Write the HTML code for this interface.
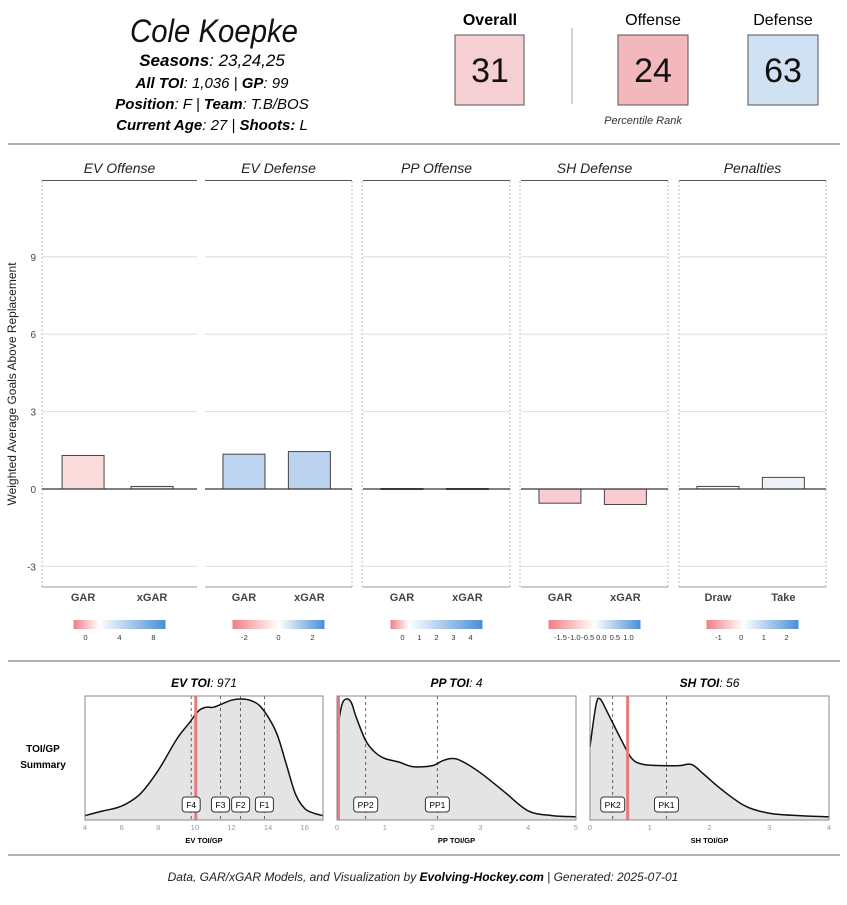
<!DOCTYPE html>
<html><head><meta charset="utf-8"><style>
body{margin:0;background:#fff;font-family:"Liberation Sans",sans-serif;}
svg text{font-family:"Liberation Sans",sans-serif;}
</style></head><body>
<svg id="c" width="847" height="900" viewBox="0 0 847 900" xmlns="http://www.w3.org/2000/svg">
<rect width="847" height="900" fill="#fff"/>
<g>
<text x="214" y="42" font-size="32" font-style="italic" text-anchor="middle" fill="#111" textLength="168" lengthAdjust="spacingAndGlyphs">Cole Koepke</text>
<text x="212" y="66" font-size="17" font-style="italic" text-anchor="middle"><tspan font-weight="bold">Seasons</tspan>: 23,24,25</text>
<text x="212" y="88" font-size="15" font-style="italic" text-anchor="middle"><tspan font-weight="bold">All TOI</tspan>: 1,036 | <tspan font-weight="bold">GP</tspan>: 99</text>
<text x="212" y="109" font-size="15" font-style="italic" text-anchor="middle"><tspan font-weight="bold">Position</tspan>: F | <tspan font-weight="bold">Team</tspan>: T.B/BOS</text>
<text x="212" y="130" font-size="15" font-style="italic" text-anchor="middle"><tspan font-weight="bold">Current Age</tspan>: 27 | <tspan font-weight="bold">Shoots:</tspan> L</text>
<text x="490" y="25" font-size="16" font-weight="bold" text-anchor="middle">Overall</text>
<rect x="455" y="35" width="69" height="70" fill="#f6cfd2" stroke="#555"/>
<text x="490" y="82" font-size="34" text-anchor="middle" fill="#111">31</text>
<line x1="572" y1="28" x2="572" y2="104" stroke="#aaa"/>
<text x="653" y="25" font-size="16" text-anchor="middle">Offense</text>
<rect x="618" y="35" width="70" height="70" fill="#f2b8bb" stroke="#555"/>
<text x="653" y="82" font-size="34" text-anchor="middle" fill="#111">24</text>
<text x="783" y="25" font-size="16" text-anchor="middle">Defense</text>
<rect x="748" y="35" width="70" height="70" fill="#cfe1f2" stroke="#555"/>
<text x="783" y="82" font-size="34" text-anchor="middle" fill="#111">63</text>
<text x="643" y="124" font-size="11" font-style="italic" text-anchor="middle" fill="#333">Percentile Rank</text>
<line x1="8" y1="144" x2="840" y2="144" stroke="#999" stroke-width="1.5"/>
</g>
<g id="bars"></g>
<line x1="8" y1="661" x2="840" y2="661" stroke="#999" stroke-width="1.5"/>
<text x="43" y="752" font-size="10" font-weight="bold" text-anchor="middle">TOI/GP</text>
<text x="43" y="768" font-size="10" font-weight="bold" text-anchor="middle">Summary</text>
<g id="dens"></g>
<line x1="8" y1="855" x2="840" y2="855" stroke="#999" stroke-width="1.5"/>
<text x="423" y="881" font-size="12" font-style="italic" text-anchor="middle" fill="#222">Data, GAR/xGAR Models, and Visualization by <tspan font-weight="bold" fill="#000">Evolving-Hockey.com</tspan> | Generated: 2025-07-01</text>
</svg>
<script>
const panelNames=["EV Offense","EV Defense","PP Offense","SH Defense","Penalties"];
const barLabels=[["GAR","xGAR"],["GAR","xGAR"],["GAR","xGAR"],["GAR","xGAR"],["Draw","Take"]];
const barValues=[[1.3,0.1],[1.35,1.45],[0.02,0.02],[-0.55,-0.6],[0.1,0.45]];
const barColors=[["#fadcdd","#f6e4e4"],["#bfd4ef","#bcd3ef"],["#f3f3f3","#f3f3f3"],["#f9cdcf","#f9cdcf"],["#fbfbfd","#eef2f8"]];
const yTicks=[-3,0,3,6,9];
const legendTicks=[["0","4","8"],["-2","0","2"],["0","1","2","3","4"],["-1.5","-1.0","-0.5","0.0","0.5","1.0"],["-1","0","1","2"]];
const NS="http://www.w3.org/2000/svg";
function mk(p,t,a,txt){const e=document.createElementNS(NS,t);for(const k in a)e.setAttribute(k,a[k]);if(txt!==undefined)e.textContent=txt;p.appendChild(e);return e;}
const yS=v=>489-v*25.8;
const px=[[42,197],[205,352],[363,510],[521,668],[679,826]];
const g=document.getElementById('bars');
const yt=mk(g,'text',{x:16,y:384,'font-size':12,'text-anchor':'middle',transform:'rotate(-90 16 384)',fill:'#222'},'Weighted Average Goals Above Replacement');


yTicks.forEach(t=>{const e=mk(g,'text',{x:36,y:yS(t)+4,'font-size':10,'text-anchor':'end',fill:'#444'},String(t));

});
[42,352,362,510,520,668,679,826].forEach(x=>mk(g,'line',{x1:x,y1:181,x2:x,y2:587,stroke:'#bbb','stroke-dasharray':'2,2'}));
panelNames.forEach((n,i)=>{const [a,b]=px[i];const w=b-a;
const pg=mk(g,'g',{});


mk(pg,'text',{x:(a+b)/2,y:173,'font-size':14,'font-style':'italic','text-anchor':'middle',fill:'#222'},n);
mk(pg,'line',{x1:a,y1:180.5,x2:b,y2:180.5,stroke:'#555'});
yTicks.forEach(t=>{if(t!==0)mk(pg,'line',{x1:a,y1:yS(t),x2:b,y2:yS(t),stroke:'#ddd'});});
mk(pg,'line',{x1:a,y1:587,x2:b,y2:587,stroke:'#999'});
const cx=[a+w*0.265,a+w*0.71];
barValues[i].forEach((v,j)=>{const y0=yS(Math.max(v,0)),h=Math.abs(v)*25.8;
const r=mk(pg,'rect',{x:cx[j]-21,y:y0,width:42,height:Math.max(h,1),fill:barColors[i][j],stroke:'#444','stroke-width':1});


mk(pg,'text',{x:cx[j],y:601,'font-size':11,'font-weight':'bold','text-anchor':'middle',fill:'#444'},barLabels[i][j]);});
mk(pg,'line',{x1:a,y1:489,x2:b,y2:489,stroke:'#333','stroke-width':1.3});
const lx=(a+b)/2-46,lw=92;
const gid='lg'+i;const d=mk(pg,'defs',{});const lg=mk(d,'linearGradient',{id:gid});
const zf=[0.28,0.5,0.2,0.5,0.4][i];
mk(lg,'stop',{offset:0,'stop-color':'#ee7f85'});mk(lg,'stop',{offset:zf,'stop-color':'#ffffff'});mk(lg,'stop',{offset:1,'stop-color':'#4a8fd6'});
const lr=mk(pg,'rect',{x:lx,y:620,width:lw,height:9,fill:'url(#'+gid+')'});


const ts=legendTicks[i];ts.forEach((t,k)=>{const tx=lx+12+k*(lw-24)/(ts.length-1);
mk(pg,'text',{x:tx,y:640,'font-size':7.5,'text-anchor':'middle',fill:'#333'},t);});
});
const evX=[4,5,6,7,8,9,9.7,10.2,10.6,11,11.5,12,12.5,13,13.5,14,14.5,15,15.5,16,16.5,17];
const evD=[0.02,0.06,0.1,0.2,0.4,0.66,0.8,0.9,0.93,0.93,0.96,0.99,1.0,0.99,0.95,0.85,0.7,0.45,0.2,0.08,0.04,0.02];
const ppX=[0,0.1,0.2,0.3,0.4,0.6,0.8,1.0,1.3,1.6,2.0,2.2,2.4,2.6,3.0,3.5,4.0,4.5,5];
const ppD=[0.72,0.95,1.0,0.97,0.85,0.65,0.55,0.5,0.47,0.43,0.44,0.48,0.5,0.48,0.38,0.22,0.06,0.02,0.01];
const shX=[0,0.1,0.17,0.3,0.5,0.7,0.9,1.2,1.5,1.7,1.9,2.2,2.6,3,3.5,4];
const shD=[0.6,0.95,1.0,0.88,0.68,0.5,0.45,0.44,0.44,0.45,0.37,0.24,0.1,0.04,0.02,0.01];
const dens=[
{title:"EV TOI",val:"971",xl:"EV TOI/GP",x0:85,x1:323,lo:4,hi:17,ticks:[4,6,8,10,12,14,16],xs:evX,ds:evD,player:10.05,lines:[["F4",9.8],["F3",11.4],["F2",12.5],["F1",13.8]]},
{title:"PP TOI",val:"4",xl:"PP TOI/GP",x0:337,x1:576,lo:0,hi:5,ticks:[0,1,2,3,4,5],xs:ppX,ds:ppD,player:0.03,lines:[["PP2",0.6],["PP1",2.1]]},
{title:"SH TOI",val:"56",xl:"SH TOI/GP",x0:590,x1:829,lo:0,hi:4,ticks:[0,1,2,3,4],xs:shX,ds:shD,player:0.63,lines:[["PK2",0.38],["PK1",1.28]]}];
function smooth(P){let s='M'+P[0][0].toFixed(1)+','+P[0][1].toFixed(1);
for(let i=0;i<P.length-1;i++){const p0=P[Math.max(i-1,0)],p1=P[i],p2=P[i+1],p3=P[Math.min(i+2,P.length-1)];
const c1=[p1[0]+(p2[0]-p0[0])/6,p1[1]+(p2[1]-p0[1])/6],c2=[p2[0]-(p3[0]-p1[0])/6,p2[1]-(p3[1]-p1[1])/6];
s+=' C'+c1[0].toFixed(1)+','+c1[1].toFixed(1)+' '+c2[0].toFixed(1)+','+c2[1].toFixed(1)+' '+p2[0].toFixed(1)+','+p2[1].toFixed(1);}
return s;}
const dg=document.getElementById('dens');
dens.forEach(p=>{const sx=v=>p.x0+(v-p.lo)/(p.hi-p.lo)*(p.x1-p.x0);const sy=d=>818-d*119;
const pg=mk(dg,'g',{});


mk(pg,'text',{x:(p.x0+p.x1)/2,y:687,'font-size':12,'font-style':'italic','text-anchor':'middle'}).innerHTML='<tspan font-weight="bold">'+p.title+'</tspan>: '+p.val;
const P=p.xs.map((x,k)=>[sx(x),sy(p.ds[k])]);
const cp=smooth(P);
mk(pg,'path',{d:cp+' L'+P[P.length-1][0]+',820 L'+P[0][0]+',820Z',fill:'#e4e4e4'});
p.lines.forEach(([n,v])=>{mk(pg,'line',{x1:sx(v),y1:696,x2:sx(v),y2:820,stroke:'#444','stroke-dasharray':'3,3','stroke-width':0.8});});
const cv=mk(pg,'path',{d:cp,fill:'none',stroke:'#111','stroke-width':1.5});


const pl=mk(pg,'line',{x1:sx(p.player),y1:696,x2:sx(p.player),y2:820,stroke:'#e87a7f','stroke-width':3});


p.lines.forEach(([n,v])=>{const w=n.length*6+6;mk(pg,'rect',{x:sx(v)-w/2,y:797,width:w,height:15,rx:3,fill:'#fff',stroke:'#333'});
mk(pg,'text',{x:sx(v),y:808,'font-size':8.5,'text-anchor':'middle'},n);});
mk(pg,'rect',{x:p.x0,y:696,width:p.x1-p.x0,height:124,fill:'none',stroke:'#888'});
p.ticks.forEach(t=>mk(pg,'text',{x:sx(t),y:830,'font-size':7.5,'text-anchor':'middle',fill:'#999'},String(t)));
mk(pg,'text',{x:(p.x0+p.x1)/2,y:843,'font-size':7.5,'font-weight':'bold','text-anchor':'middle'},p.xl);
});
</script>
</body></html>
